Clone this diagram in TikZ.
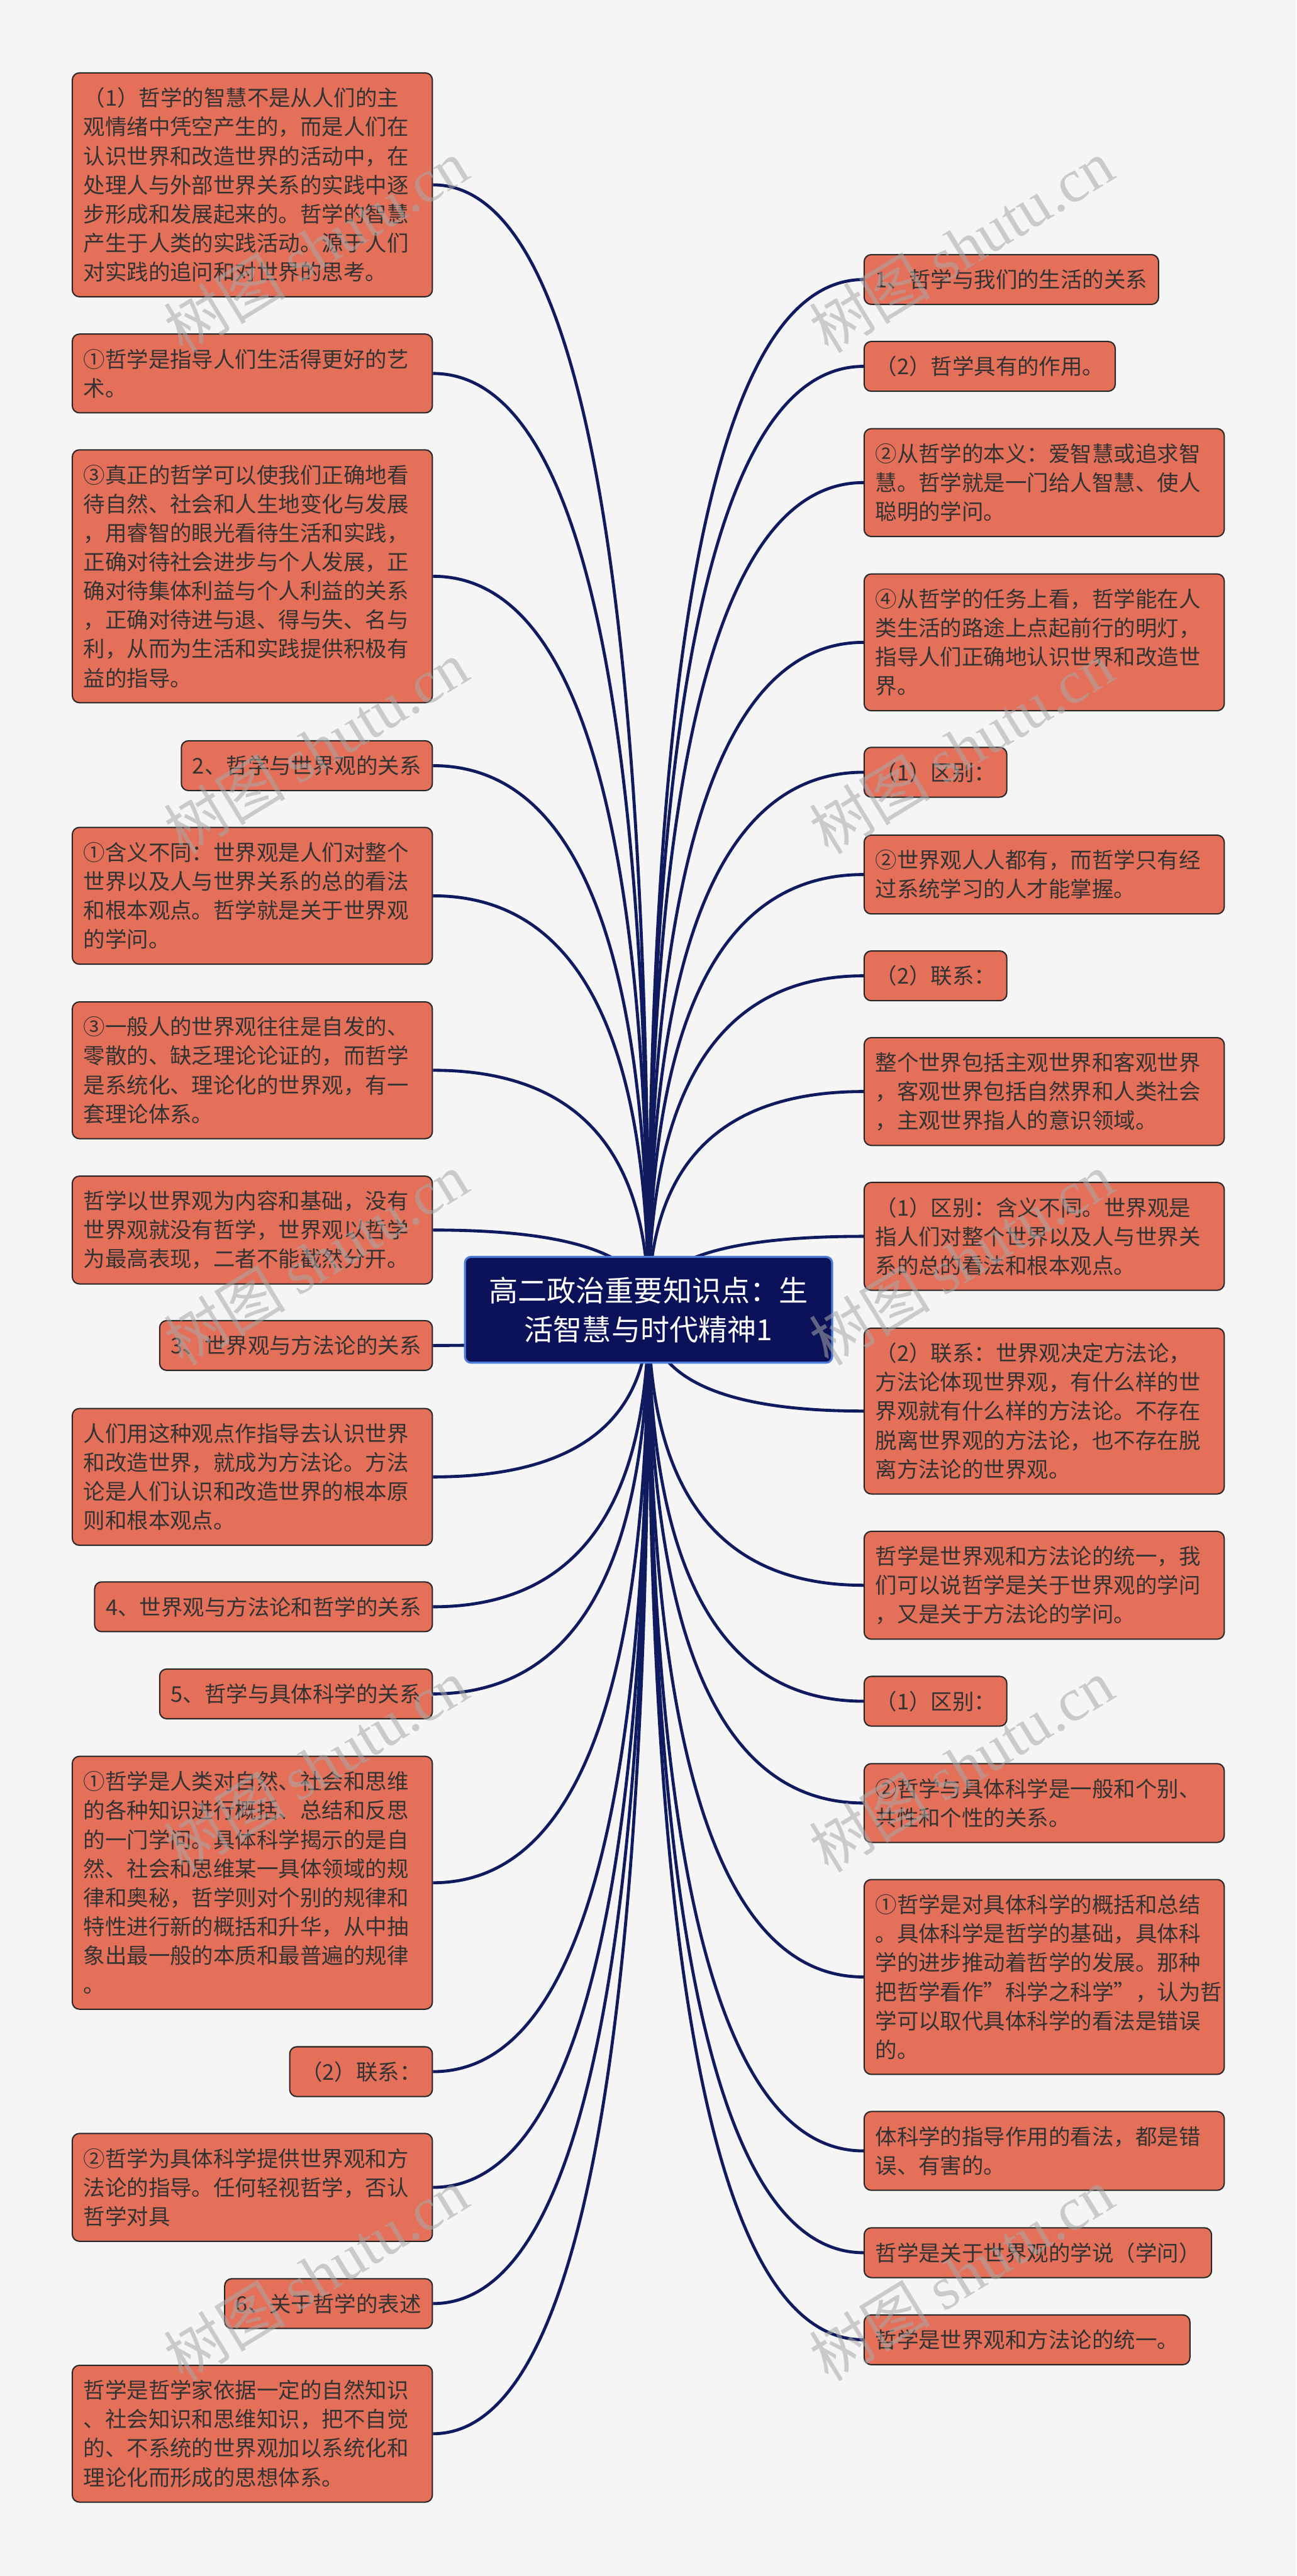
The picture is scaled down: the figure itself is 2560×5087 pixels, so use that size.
\documentclass[tikz,border=0pt]{standalone}
\usepackage{fontspec}
\setmainfont{Noto Sans CJK SC}
\newfontfamily\wmserif{Liberation Serif}
\usetikzlibrary{calc}
\definecolor{bgcol}{HTML}{F5F5F5}
\definecolor{leaffill}{HTML}{E4705A}
\definecolor{leafline}{HTML}{262626}
\definecolor{leaftext}{HTML}{333333}
\definecolor{linkcol}{HTML}{101A5E}
\definecolor{rootfill}{HTML}{0B1259}
\definecolor{rootline}{HTML}{4A7BD9}
\definecolor{wmcol}{HTML}{A8A8A8}
\pgfdeclarelayer{bg}
\pgfsetlayers{bg,main}
\newcommand\mmlink[1]{\draw[link] (root.center) .. controls ($(root.center)!0.6667!(root.center |- #1)$) and ($(#1)!0.6667!(root.center |- #1)$) .. (#1);}
\tikzset{
  leaf/.style={draw=leafline, line width=2.5pt, fill=leaffill, rounded corners=14pt,
    text=leaftext, font=\fontsize{42.8pt}{57.3pt}\selectfont, align=left,
    inner xsep=22pt, inner ysep=0pt},
  wide/.style={leaf, text width=667pt},
  n1/.style={minimum height=98.3pt},
  n2/.style={minimum height=155.6pt},
  n3/.style={minimum height=212.9pt},
  n4/.style={minimum height=270.2pt},
  n5/.style={minimum height=327.5pt},
  n6/.style={minimum height=384.8pt},
  n7/.style={minimum height=442.1pt},
  n8/.style={minimum height=499.4pt},
  lft/.style={anchor=east},
  rgt/.style={anchor=west},
  link/.style={draw=linkcol, line width=6pt},
  rootbox/.style={draw=rootline, line width=4pt, fill=rootfill, rounded corners=12pt,
    text=white, font=\fontsize{57.3pt}{76.7pt}\selectfont, align=center,
    minimum width=725pt, minimum height=209pt, inner sep=0pt},
  wmark/.style={text=wmcol, opacity=0.55, font=\fontsize{120pt}{122pt}\selectfont,
    anchor=base west, rotate=31.5, inner sep=0pt}
}
\begin{document}
\begin{tikzpicture}[x=1pt, y=-1pt]
\useasboundingbox (0,0) rectangle (2560,5087);
% root
\node[rootbox] (root) at (1280.5,2586.5) {高二政治重要知识点：生\\活智慧与时代精神1};
% left column
\node[wide,n7,lft] (L1) at (855,365) {（1）哲学的智慧不是从人们的主\\观情绪中凭空产生的，而是人们在\\认识世界和改造世界的活动中，在\\处理人与外部世界关系的实践中逐\\步形成和发展起来的。哲学的智慧\\产生于人类的实践活动。源于人们\\对实践的追问和对世界的思考。};
\node[wide,n2,lft] (L2) at (855,737.5) {①哲学是指导人们生活得更好的艺\\术。};
\node[wide,n8,lft] (L3) at (855,1138) {③真正的哲学可以使我们正确地看\\待自然、社会和人生地变化与发展\\，用睿智的眼光看待生活和实践，\\正确对待社会进步与个人发展，正\\确对待集体利益与个人利益的关系\\，正确对待进与退、得与失、名与\\利，从而为生活和实践提供积极有\\益的指导。};
\node[leaf,n1,lft] (L4) at (855,1512) {2、哲学与世界观的关系};
\node[wide,n4,lft] (L5) at (855,1769) {①含义不同：世界观是人们对整个\\世界以及人与世界关系的总的看法\\和根本观点。哲学就是关于世界观\\的学问。};
\node[wide,n4,lft] (L6) at (855,2113.5) {③一般人的世界观往往是自发的、\\零散的、缺乏理论论证的，而哲学\\是系统化、理论化的世界观，有一\\套理论体系。};
\node[wide,n3,lft] (L7) at (855,2429) {哲学以世界观为内容和基础，没有\\世界观就没有哲学，世界观以哲学\\为最高表现，二者不能截然分开。};
\node[leaf,n1,lft] (L8) at (855,2657) {3、世界观与方法论的关系};
\node[wide,n4,lft] (L9) at (855,2916.5) {人们用这种观点作指导去认识世界\\和改造世界，就成为方法论。方法\\论是人们认识和改造世界的根本原\\则和根本观点。};
\node[leaf,n1,lft] (L10) at (855,3173) {4、世界观与方法论和哲学的关系};
\node[leaf,n1,lft] (L11) at (855,3345) {5、哲学与具体科学的关系};
\node[wide,n8,lft] (L12) at (855,3718) {①哲学是人类对自然、社会和思维\\的各种知识进行概括、总结和反思\\的一门学问。具体科学揭示的是自\\然、社会和思维某一具体领域的规\\律和奥秘，哲学则对个别的规律和\\特性进行新的概括和升华，从中抽\\象出最一般的本质和最普遍的规律\\。};
\node[leaf,n1,lft] (L13) at (855,4091) {（2）联系：};
\node[wide,n3,lft] (L14) at (855,4319.5) {②哲学为具体科学提供世界观和方\\法论的指导。任何轻视哲学，否认\\哲学对具};
\node[leaf,n1,lft] (L15) at (855,4549) {6、关于哲学的表述};
\node[wide,n4,lft] (L16) at (855,4806) {哲学是哲学家依据一定的自然知识\\、社会知识和思维知识，把不自觉\\的、不系统的世界观加以系统化和\\理论化而形成的思想体系。};
% right column
\node[leaf,n1,rgt] (R1) at (1705,552) {1、哲学与我们的生活的关系};
\node[leaf,n1,rgt] (R2) at (1705,723.5) {（2）哲学具有的作用。};
\node[wide,n3,rgt] (R3) at (1705,953) {②从哲学的本义：爱智慧或追求智\\慧。哲学就是一门给人智慧、使人\\聪明的学问。};
\node[wide,n4,rgt] (R4) at (1705,1268.5) {④从哲学的任务上看，哲学能在人\\类生活的路途上点起前行的明灯，\\指导人们正确地认识世界和改造世\\界。};
\node[leaf,n1,rgt] (R5) at (1705,1525) {（1）区别：};
\node[wide,n2,rgt] (R6) at (1705,1727) {②世界观人人都有，而哲学只有经\\过系统学习的人才能掌握。};
\node[leaf,n1,rgt] (R7) at (1705,1927) {（2）联系：};
\node[wide,n3,rgt] (R8) at (1705,2155.5) {整个世界包括主观世界和客观世界\\，客观世界包括自然界和人类社会\\，主观世界指人的意识领域。};
\node[wide,n3,rgt] (R9) at (1705,2441.5) {（1）区别：含义不同。世界观是\\指人们对整个世界以及人与世界关\\系的总的看法和根本观点。};
\node[wide,n5,rgt] (R10) at (1705,2786.5) {（2）联系：世界观决定方法论，\\方法论体现世界观，有什么样的世\\界观就有什么样的方法论。不存在\\脱离世界观的方法论，也不存在脱\\离方法论的世界观。};
\node[wide,n3,rgt] (R11) at (1705,3130.5) {哲学是世界观和方法论的统一，我\\们可以说哲学是关于世界观的学问\\，又是关于方法论的学问。};
\node[leaf,n1,rgt] (R12) at (1705,3359.5) {（1）区别：};
\node[wide,n2,rgt] (R13) at (1705,3560.5) {②哲学与具体科学是一般和个别、\\共性和个性的关系。};
\node[wide,n6,rgt] (R14) at (1705,3904) {①哲学是对具体科学的概括和总结\\。具体科学是哲学的基础，具体科\\学的进步推动着哲学的发展。那种\\把哲学看作"科学之科学"，认为哲\\学可以取代具体科学的看法是错误\\的。};
\node[wide,n2,rgt] (R15) at (1705,4247.5) {体科学的指导作用的看法，都是错\\误、有害的。};
\node[leaf,n1,rgt] (R16) at (1705,4448.5) {哲学是关于世界观的学说（学问）};
\node[leaf,n1,rgt] (R17) at (1705,4620.5) {哲学是世界观和方法论的统一。};
% background and connectors
\begin{pgfonlayer}{bg}
\fill[bgcol] (0,0) rectangle (2560,5087);
\foreach \n in {L1,L2,L3,L4,L5,L6,L7,L8,L9,L10,L11,L12,L13,L14,L15,L16}{\mmlink{\n.east}}
\foreach \n in {R1,R2,R3,R4,R5,R6,R7,R8,R9,R10,R11,R12,R13,R14,R15,R16,R17}{\mmlink{\n.west}}
\end{pgfonlayer}
% watermarks
\node[wmark] (wm1) at (362,700) {树图 {\wmserif shutu.cn}};
\node[wmark] (wm2) at (1636,700) {树图 {\wmserif shutu.cn}};
\node[wmark] (wm3) at (362,1690) {树图 {\wmserif shutu.cn}};
\node[wmark] (wm4) at (1636,1690) {树图 {\wmserif shutu.cn}};
\node[wmark] (wm5) at (362,2700) {树图 {\wmserif shutu.cn}};
\node[wmark] (wm6) at (1636,2700) {树图 {\wmserif shutu.cn}};
\node[wmark] (wm7) at (362,3700) {树图 {\wmserif shutu.cn}};
\node[wmark] (wm8) at (1636,3700) {树图 {\wmserif shutu.cn}};
\node[wmark] (wm9) at (362,4705) {树图 {\wmserif shutu.cn}};
\node[wmark] (wm10) at (1636,4705) {树图 {\wmserif shutu.cn}};
\end{tikzpicture}
\end{document}
